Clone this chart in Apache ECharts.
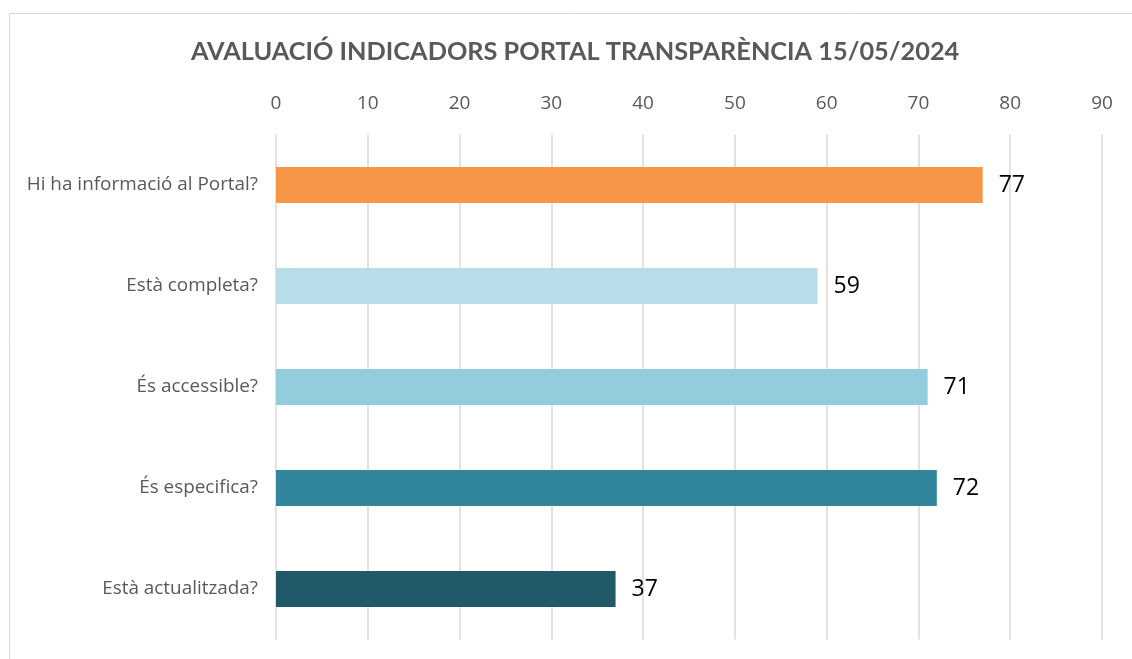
<!DOCTYPE html>
<html><head><meta charset="utf-8">
<script src="https://cdn.jsdelivr.net/npm/echarts@6/dist/echarts.min.js"></script>
<style>html,body{margin:0;padding:0;background:#fff}#c{width:1132px;height:659px}</style>
</head><body><div id="c"></div>
<script>
const categories = ["Hi ha informació al Portal?", "Està completa?", "És accessible?", "És especifica?", "Està actualitzada?"];
const values = [77, 59, 71, 72, 37];
const barColors = ["#F79646", "#B7DEE8", "#93CDDD", "#31859C", "#215968"];
const titleText = "AVALUACIÓ INDICADORS PORTAL TRANSPARÈNCIA 15/05/2024";

const chart = echarts.init(document.getElementById('c'), null, {renderer: 'canvas'});
const font = "Lato, 'Open Sans', sans-serif";
const font2 = "'Open Sans', Lato, sans-serif";
chart.setOption({
  animation: false,
  backgroundColor: '#fff',
  graphic: [{type: 'rect', shape: {x: 9.5, y: 13.5, width: 1140, height: 700}, style: {fill: 'none', stroke: '#d9d9d9', lineWidth: 1}, silent: true, z: -1}],
  title: {text: titleText, left: 186, top: 34, textStyle: {fontFamily: font, fontSize: 25.3, fontWeight: 'bold', color: '#595959'}},
  grid: {left: 276, right: 30, top: 134.5, bottom: 19.5, containLabel: false},
  xAxis: {type: 'value', position: 'top', min: 0, max: 90, interval: 10,
    axisLine: {show: false}, axisTick: {show: false},
    axisLabel: {fontFamily: font2, fontSize: 19, color: '#595959', margin: 21},
    splitLine: {lineStyle: {color: '#d9d9d9', width: 1.5}}},
  yAxis: {type: 'category', data: categories, inverse: true,
    axisLine: {show: false}, axisTick: {show: false},
    axisLabel: {fontFamily: font2, fontSize: 18.9, color: '#595959', margin: 18}},
  series: [{type: 'bar', barWidth: '35.6%',
    data: values.map((v, i) => ({value: v, itemStyle: {color: barColors[i]}})),
    label: {show: true, position: 'right', distance: 16, fontFamily: font2, fontSize: 23, color: '#000'}}]
});
</script></body></html>
